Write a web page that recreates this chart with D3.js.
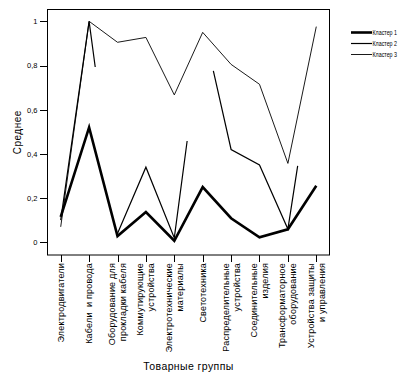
<!DOCTYPE html>
<html><head><meta charset="utf-8">
<script src="https://cdn.jsdelivr.net/npm/d3@7"></script>
<style>body{margin:0;background:#fff}svg{display:block}text{font-family:"Liberation Sans",Arial,sans-serif;fill:#000}</style>
</head><body>
<svg id="c" width="418" height="377"></svg>
<script>
const categories = [
  ["Электродвигатели"],
  ["Кабели\u00a0\u00a0и провода"],
  ["Оборудование для","прокладки кабеля"],
  ["Коммутирующие","устройства"],
  ["Электротехнические","материалы"],
  ["Светотехника"],
  ["Распределительные","устройства"],
  ["Соединительные","изделия"],
  ["Трансформаторное","оборудование"],
  ["Устройства защиты","и управления"]
];
const cluster1 = [0.115, 0.52, 0.028, 0.137, 0.007, 0.25, 0.109, 0.023, 0.059, 0.256];
const cluster2 = [0.10, 1.0, 0.04, 0.34, 0.02, 0.99, 0.42, 0.35, 0.06, 0.89];
const cluster3 = [0.07, 1.0, 0.905, 0.927, 0.667, 0.95, 0.805, 0.715, 0.357, 0.976];
const seriesNames = ["Кластер 1","Кластер 2","Кластер 3"];
const yTicks = [0, 0.2, 0.4, 0.6, 0.8, 1];
const yTickLabels = ["0","0,2","0,4","0,6","0,8","1"];
const yTitle = "Среднее";
const xTitle = "Товарные группы";

const svg = d3.select("#c");
const L = 47.5, R = 329.5, T = 9.5, B = 255;
const idx = categories.map((d,i)=>i);
const x = d3.scalePoint().domain(idx).range([L, R]).padding(0.465);
const y = d3.scaleLinear().domain([0,1]).range([242.3, 21.3]);

// frame
svg.append("rect").attr("x",L).attr("y",T).attr("width",R-L).attr("height",B-T)
  .attr("fill","none").attr("stroke","#000").attr("stroke-width",1);

// y axis
const ya = svg.append("g").attr("transform",`translate(${L},0)`)
  .call(d3.axisLeft(y).tickValues(yTicks).tickSize(8).tickPadding(2)
    .tickFormat((d,i)=>yTickLabels[i]));
ya.select(".domain").remove();
ya.selectAll("line").attr("stroke","#000").attr("shape-rendering","crispEdges");
ya.selectAll("text").attr("font-size","7.5px").attr("font-family","Liberation Sans, Arial, sans-serif").attr("fill","#000");

// x axis
const xa = svg.append("g").attr("transform",`translate(0,${B})`)
  .call(d3.axisBottom(x).tickSize(7).tickFormat(""));
xa.select(".domain").remove();
xa.selectAll("line").attr("stroke","#000").attr("shape-rendering","crispEdges");

// x labels
const lab = svg.append("g");
idx.forEach(i=>{
  const lines = categories[i];
  const cx = x(i);
  lines.forEach((t,k)=>{
    const off = lines.length===1 ? 0 : (k===0 ? -5.5 : 5.5);
    lab.append("text")
      .attr("transform",`translate(${cx+off},263) rotate(-90)`)
      .attr("text-anchor","end").attr("dominant-baseline","central")
      .attr("font-size","9px").attr("letter-spacing","0.2px")
      .text(t);
  });
});

// titles
svg.append("text").attr("transform",`translate(17.5,${(T+B)/2}) rotate(-90)`)
  .attr("text-anchor","middle").attr("dominant-baseline","central")
  .attr("font-size","10px").attr("letter-spacing","0.5px").text(yTitle);
svg.append("text").attr("x",(L+R)/2).attr("y",366).attr("text-anchor","middle")
  .attr("dominant-baseline","central").attr("font-size","10.5px").attr("letter-spacing","0.4px").text(xTitle);

// lines
const line = d3.line().x((d,i)=>x(i)).y(d=>y(d));
const styles = [
  {w:2.6, dash:null},
  {w:1.2, dash:"247,167"},
  {w:0.9, dash:null}
];
[cluster1, cluster2, cluster3].forEach((s,k)=>{
  svg.append("path").datum(s).attr("d",line)
    .attr("fill","none").attr("stroke","#000")
    .attr("stroke-width",styles[k].w)
    .attr("stroke-dasharray",styles[k].dash);
});

// legend
const lg = svg.append("g");
seriesNames.forEach((n,k)=>{
  const ly = 32.5 + k*11;
  lg.append("line").attr("x1",351).attr("x2",372).attr("y1",ly).attr("y2",ly)
    .attr("stroke","#000").attr("stroke-width",styles[k].w);
  lg.append("text").attr("x",372.5).attr("y",ly).attr("dominant-baseline","central")
    .attr("font-size","8px").attr("textLength",24.5).attr("lengthAdjust","spacingAndGlyphs").text(n);
});
</script>
</body></html>
